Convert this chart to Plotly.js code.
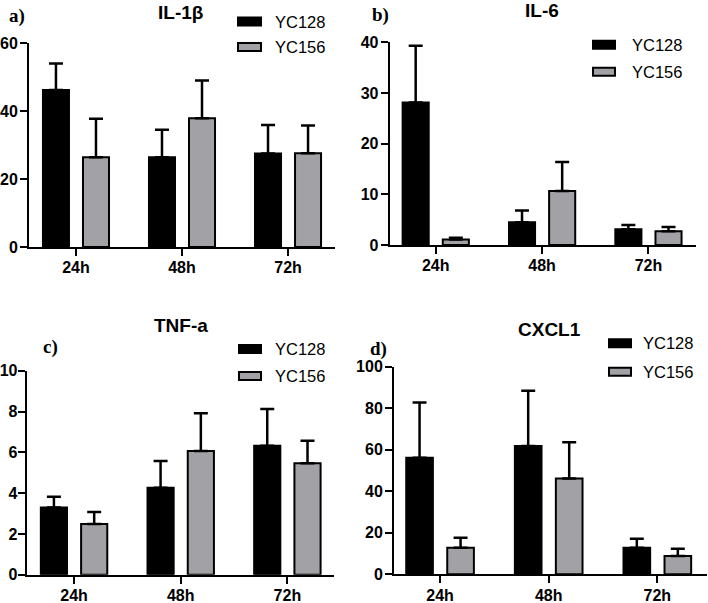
<!DOCTYPE html>
<html>
<head>
<meta charset="utf-8">
<script src="https://cdn.plot.ly/plotly-3.0.1.min.js"></script>
<style>html,body{margin:0;padding:0;background:#fff;}#chart{width:708px;height:603px;}</style>
</head>
<body>
<div id="chart"></div>
<script>
// ---- data ----
const categories = ["24h", "48h", "72h"];
const seriesNames = ["YC128", "YC156"];
const panelTitles = ["IL-1\u03b2", "IL-6", "TNF-a", "CXCL1"];
const panelLabels = ["a)", "b)", "c)", "d)"];

const il1b_YC128 = [46.2, 26.4, 27.5];
const il1b_YC128_err = [7.8, 8.1, 8.4];
const il1b_YC156 = [26.4, 37.9, 27.6];
const il1b_YC156_err = [11.3, 11.1, 8.1];

const il6_YC128 = [28.1, 4.5, 3.1];
const il6_YC128_err = [11.2, 2.3, 0.85];
const il6_YC156 = [1.1, 10.65, 2.7];
const il6_YC156_err = [0.35, 5.75, 0.85];

const tnfa_YC128 = [3.3, 4.26, 6.32];
const tnfa_YC128_err = [0.52, 1.31, 1.8];
const tnfa_YC156 = [2.49, 6.06, 5.46];
const tnfa_YC156_err = [0.58, 1.85, 1.11];

const cxcl1_YC128 = [56.2, 61.8, 12.8];
const cxcl1_YC128_err = [26.5, 26.6, 4.3];
const cxcl1_YC156 = [12.8, 46.2, 8.8];
const cxcl1_YC156_err = [4.8, 17.4, 3.5];

const yTickVals = [[0, 20, 40, 60], [0, 10, 20, 30, 40], [0, 2, 4, 6, 8, 10], [0, 20, 40, 60, 80, 100]];

// ---- styling / layout ----
const W = 708, H = 603;
const px = x => x / W;
const py = y => 1 - y / H;
const colors = ["#000000", "#a2a2a6"];
const FONT = "'Liberation Sans', Arial, sans-serif";
const SERIF = "'Liberation Serif', 'Times New Roman', serif";

const panels = [
  {v: [il1b_YC128, il1b_YC156], e: [il1b_YC128_err, il1b_YC156_err], xd: [29, 335], yd: [247, 43], xr: [-0.443, 2.443], yr: [0, 60],
   title: [180, 12.5], label: [17, 16], leg: {bx: [238, 261], rows: [21.5, 47], tx: 273}, ystand: -1},
  {v: [il6_YC128, il6_YC156], e: [il6_YC128_err, il6_YC156_err], xd: [389.7, 696.3], yd: [245, 42.3], xr: [-0.433, 2.45], yr: [0, 40],
   title: [542, 10], label: [380, 15], leg: {bx: [593, 615], rows: [44.7, 71.7], tx: 630}, ystand: -1},
  {v: [tnfa_YC128, tnfa_YC156], e: [tnfa_YC128_err, tnfa_YC156_err], xd: [26.7, 334.3], yd: [574.7, 370.7], xr: [-0.444, 2.44], yr: [0, 10],
   title: [181, 325], label: [50, 347], leg: {bx: [239, 261], rows: [349, 376], tx: 273}, ystand: -3},
  {v: [cxcl1_YC128, cxcl1_YC156], e: [cxcl1_YC128_err, cxcl1_YC156_err], xd: [394, 707.3], yd: [574.3, 366.7], xr: [-0.424, 2.46], yr: [0, 100],
   title: [549, 330], label: [378, 349], leg: {bx: [609, 631], rows: [343.3, 371.7], tx: 641}, ystand: -1}
];

const traces = [];
const layout = {
  width: W, height: H,
  margin: {l: 0, r: 0, t: 0, b: 0},
  paper_bgcolor: "#ffffff", plot_bgcolor: "rgba(0,0,0,0)",
  barmode: "group", bargap: 0.245, bargroupgap: 0.35,
  showlegend: false,
  font: {family: FONT, color: "#000"},
  shapes: [], annotations: []
};

panels.forEach((p, i) => {
  const n = i === 0 ? "" : String(i + 1);
  const xa = "x" + n, ya = "y" + n;
  for (let s = 0; s < 2; s++) {
    traces.push({
      type: "bar", x: categories, y: p.v[s], name: seriesNames[s],
      xaxis: xa, yaxis: ya,
      marker: {color: colors[s], line: {color: "#000", width: 2}},
      error_y: {type: "data", array: p.e[s], arrayminus: [0, 0, 0], symmetric: false, visible: true,
                color: "#000", thickness: 2.5, width: 7},
      hoverinfo: "skip"
    });
  }
  layout["xaxis" + n] = {
    domain: [px(p.xd[0]), px(p.xd[1])], anchor: ya, range: p.xr,
    type: "category",
    showline: true, linecolor: "#000", linewidth: 2,
    ticks: "outside", ticklen: 7, tickwidth: 2, tickcolor: "#000",
    ticklabelstandoff: -2,
    tickfont: {family: FONT, size: 16, color: "#000", weight: "bold"},
    showgrid: false, zeroline: false, fixedrange: true
  };
  layout["yaxis" + n] = {
    domain: [py(p.yd[0]), py(p.yd[1])], anchor: xa, range: p.yr,
    tickmode: "array", tickvals: yTickVals[i],
    showline: true, linecolor: "#000", linewidth: 2,
    ticks: "outside", ticklen: 7, tickwidth: 2, tickcolor: "#000",
    ticklabelstandoff: p.ystand,
    tickfont: {family: FONT, size: 16, color: "#000", weight: "bold"},
    showgrid: false, zeroline: false, fixedrange: true
  };
  // title
  layout.annotations.push({
    xref: "paper", yref: "paper", x: px(p.title[0]), y: py(p.title[1]),
    xanchor: "center", yanchor: "middle", showarrow: false,
    text: "<b>" + panelTitles[i] + "</b>",
    font: {family: FONT, size: 19, color: "#000"}
  });
  // panel label
  layout.annotations.push({
    xref: "paper", yref: "paper", x: px(p.label[0]), y: py(p.label[1]),
    xanchor: "center", yanchor: "middle", showarrow: false,
    text: "<b>" + panelLabels[i] + "</b>",
    font: {family: SERIF, size: 19, color: "#000"}
  });
  // legend
  for (let s = 0; s < 2; s++) {
    const cy = p.leg.rows[s];
    layout.shapes.push({
      type: "rect", xref: "paper", yref: "paper",
      x0: px(p.leg.bx[0]), x1: px(p.leg.bx[1]), y0: py(cy + 4), y1: py(cy - 4),
      fillcolor: colors[s], line: {color: "#000", width: 2}
    });
    layout.annotations.push({
      xref: "paper", yref: "paper", x: px(p.leg.tx), y: py(cy),
      xanchor: "left", yanchor: "middle", showarrow: false,
      text: seriesNames[s],
      font: {family: FONT, size: 16.5, color: "#000"}
    });
  }
});

Plotly.newPlot("chart", traces, layout, {staticPlot: true, displayModeBar: false});
</script>
</body>
</html>
